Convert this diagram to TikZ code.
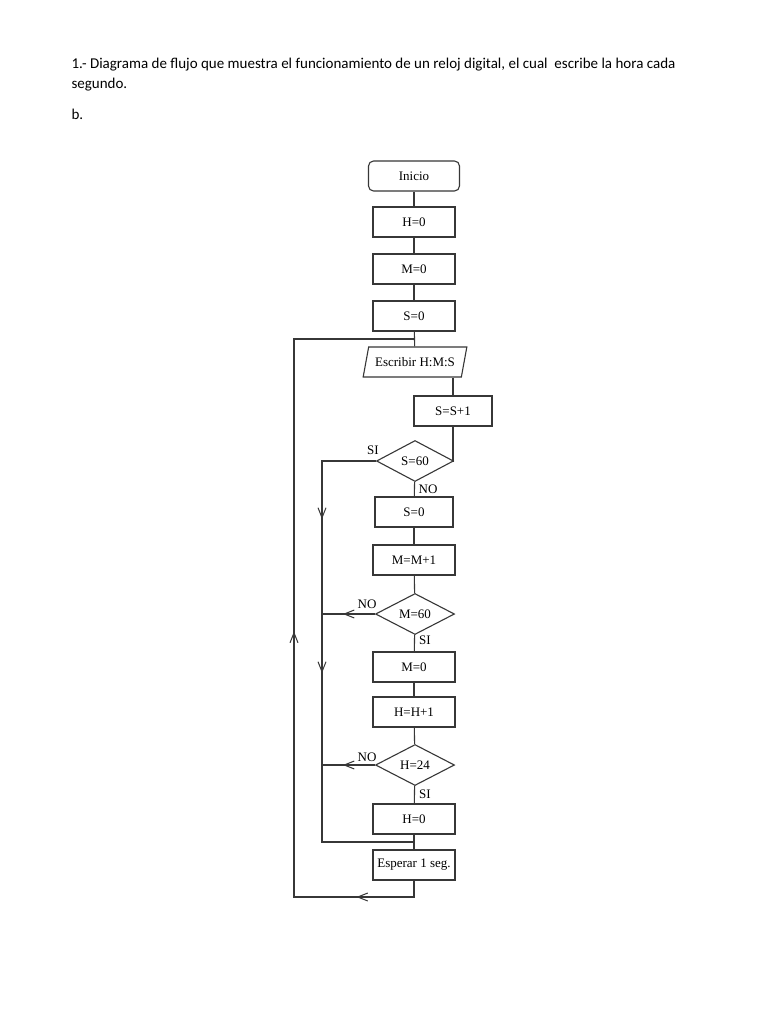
\documentclass[tikz,border=0pt]{standalone}
\usepackage{fontspec}
\setmainfont{Liberation Serif}
\newfontfamily\hdrfont{Carlito}
\usetikzlibrary{shapes.geometric,arrows.meta,decorations.markings}
\begin{document}
\begin{tikzpicture}[x=1pt,y=-1pt,
  line width=1.1pt, draw={rgb,255:red,55;green,55;blue,55},
  box/.style={draw, rectangle, minimum width=82pt, minimum height=30pt, inner sep=1pt, font=\fontsize{13}{15}\selectfont},
  startbox/.style={box, rounded corners=5pt, minimum width=91pt},
  decis/.style={draw, diamond, aspect=2, inner sep=0pt, minimum width=79pt, minimum height=41pt, font=\fontsize{13}{15}\selectfont},
  iobox/.style={draw, trapezium, trapezium left angle=73, trapezium right angle=107, trapezium stretches=true, minimum width=104pt, minimum height=30pt, inner xsep=1pt, font=\fontsize{13}{15}\selectfont},
  lbl/.style={font=\fontsize{13}{15}\selectfont, inner sep=1pt},
  hdr/.style={anchor=base west, inner sep=0pt, font=\hdrfont\fontsize{15}{18}\selectfont},
  barb/.style={postaction={decorate, decoration={markings, mark=at position #1 with {\arrow{Straight Barb[length=10pt,width=8pt,line width=1pt]}}}}},
]
\useasboundingbox (0,0) rectangle (768,1024);
\fill[white] (0,0) rectangle (768,1024);

\node[hdr] (t1) at (71,69) {1.- Diagrama de flujo que muestra el funcionamiento de un reloj digital, el cual\ \ escribe la hora cada};
\node[hdr] (t2) at (71,89) {segundo.};
\node[hdr] (t3) at (71,120) {b.};

\node[startbox] (ini) at (414,176) {Inicio};
\node[box] (h0) at (414,222) {H=0};
\node[box] (m0) at (414,269) {M=0};
\node[box] (s0) at (414,316) {S=0};
\node[iobox] (w) at (415,362) {Escribir H:M:S};
\node[box, minimum width=78pt] (s1) at (453,411) {S=S+1};
\node[decis, minimum width=77pt] (d1) at (415,461) {S=60};
\node[box, minimum width=78pt] (s2) at (414,512) {S=0};
\node[box] (m1) at (414,560) {M=M+1};
\node[decis] (d2) at (415,614) {M=60};
\node[box] (m2) at (414,667) {M=0};
\node[box] (h1) at (414,712) {H=H+1};
\node[decis] (d3) at (415,765) {H=24};
\node[box] (h2) at (414,819) {H=0};
\node[box] (esp) at (414,865) {Esperar 1 seg.};

\node[lbl] (lsi1) at (373,450) {SI};
\node[lbl] (lno1) at (428,489) {NO};
\node[lbl] (lno2) at (367,604) {NO};
\node[lbl] (lsi2) at (425,640) {SI};
\node[lbl] (lno3) at (367,757) {NO};
\node[lbl] (lsi3) at (425,794) {SI};

\coordinate (top) at (414,339);
\coordinate (jn) at (414,842);
\coordinate (in1) at (322,461);
\coordinate (in2) at (322,614);
\coordinate (in3) at (322,765);
\coordinate (inb) at (322,842);
\coordinate (ob) at (414,897);
\coordinate (obl) at (294,897);
\coordinate (otl) at (294,339);

\draw (ini) -- (h0);
\draw (h0) -- (m0);
\draw (m0) -- (s0);
\draw (s0) -- (w);
\draw (s1.north |- w.south) -- (s1.north);
\draw (s1.south) |- (d1.east);
\draw (d1) -- (s2);
\draw (s2) -- (m1);
\draw (m1) -- (d2);
\draw (d2) -- (m2);
\draw (m2) -- (h1);
\draw (h1) -- (d3);
\draw (d3) -- (h2);
\draw (h2) -- (esp);

\draw[barb=112pt, barb=266pt] (d1.west) -- (in1) -- (inb) -- (jn);
\draw[barb=32pt] (d2.west) -- (in2);
\draw[barb=32pt] (d3.west) -- (in3);
\draw[barb=74pt, barb=402pt] (esp.south) -- (ob) -- (obl) -- (otl) -- (top);
\end{tikzpicture}
\end{document}
